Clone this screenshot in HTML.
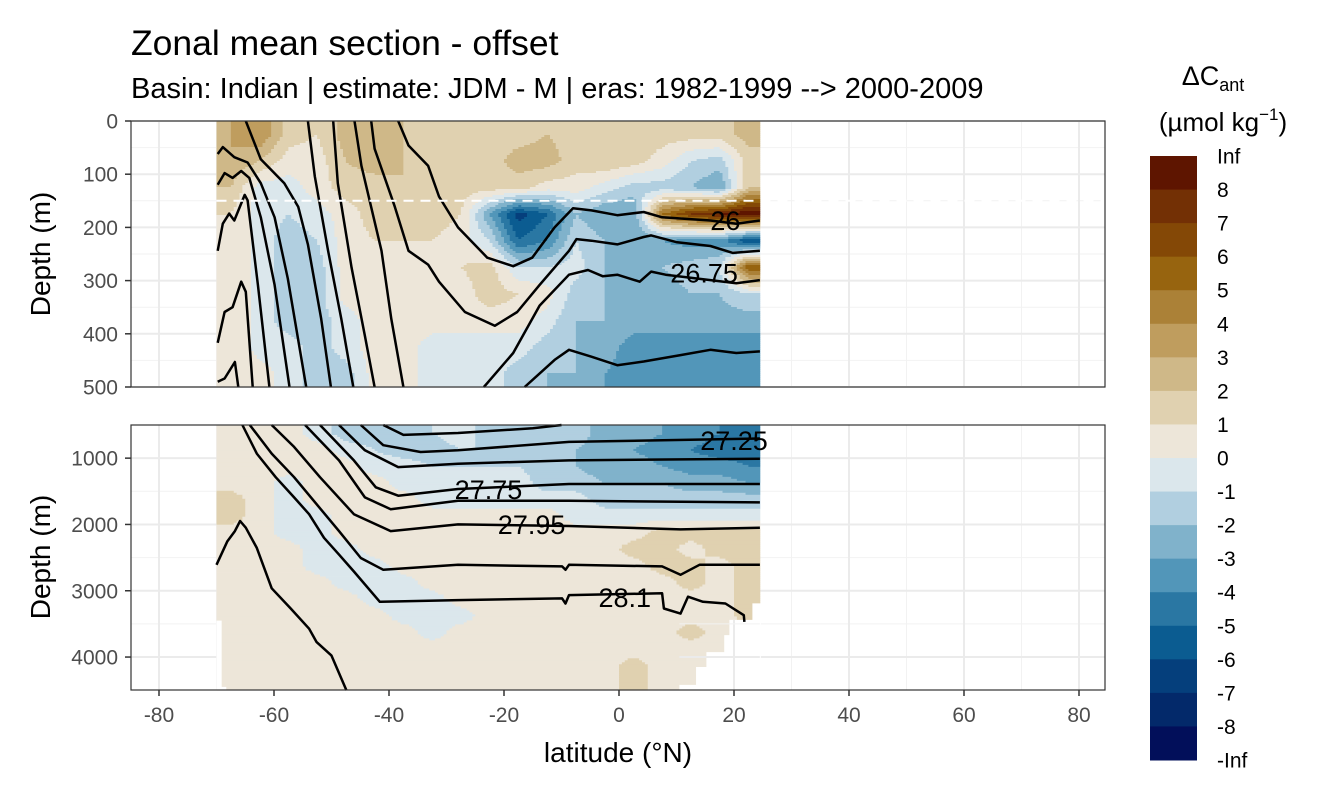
<!DOCTYPE html>
<html><head><meta charset="utf-8">
<style>
html,body{margin:0;padding:0;background:#fff;}
svg{display:block;font-family:"Liberation Sans",sans-serif;}
</style></head>
<body>
<svg id="chart" width="1344" height="806" viewBox="0 0 1344 806" xmlns="http://www.w3.org/2000/svg">
  <text x="131" y="55" font-size="35.5" fill="#000">Zonal mean section - offset</text>
  <text x="131" y="98" font-size="29" fill="#000">Basin: Indian | estimate: JDM - M | eras: 1982-1999 --&gt; 2000-2009</text>
  <g id="topPanel"></g>
  <g id="botPanel"></g>
  <g id="xaxis"></g>
  <text x="618" y="762" font-size="28" text-anchor="middle" fill="#000">latitude (°N)</text>
  <text transform="translate(50,254) rotate(-90)" font-size="28" text-anchor="middle" fill="#000">Depth (m)</text>
  <text transform="translate(50,557) rotate(-90)" font-size="28" text-anchor="middle" fill="#000">Depth (m)</text>
  <g id="legend">
    <text x="1213" y="85" font-size="27" text-anchor="middle" fill="#000">ΔC<tspan font-size="18" dy="6">ant</tspan></text>
    <text x="1223" y="131" font-size="26" text-anchor="middle" fill="#000">(µmol kg<tspan font-size="17" dy="-11">−1</tspan><tspan dy="11">)</tspan></text>
  </g>
</svg>
<script>
// ---- data ----
const legendLabels = ['Inf','8','7','6','5','4','3','2','1','0','-1','-2','-3','-4','-5','-6','-7','-8','-Inf'];
const binColors = ['#5e1500','#733005','#844806','#97640f','#ab8137','#bf9d5e','#cfb888','#e0d1b0','#ede6d9','#dbe7ec','#b1cfe0','#80b2cb','#5296b9','#2a77a3','#0b5c91','#053f7c','#03296a','#020f5a'];
const latCenters = [-67.5,-62.5,-57.5,-52.5,-47.5,-42.5,-37.5,-32.5,-27.5,-22.5,-17.5,-12.5,-7.5,-2.5,2.5,7.5,12.5,17.5,22.5];
const topDepths = [25,75,125,175,225,275,325,375,425,475];
const topValues = [
 [3,4,1.5,1,2.5,3,2,1.5,1.5,1.5,1.5,2,1.5,1.5,1.5,1.5,1.5,1.5,2.5],
 [3,2,0.5,0.5,2,2.5,2,2,2,1.5,2.5,2.5,1.5,2,1.5,0.5,-1,-1.5,1.5],
 [2,-0.5,-0.5,0.5,1.5,1.5,2,2,1.5,1.5,1.5,0.5,0.5,-0.5,-1.5,-1.5,-2,-3,2],
 [1,-0.5,-1,-0.5,0.5,1.5,1.5,1.5,1,-3,-6.5,-5,-2,-3,-3,5,7,8,9],
 [1,-0.5,-1.5,-1,0.5,1,1,1,0.5,-1,-5,-4,-1,-2,-3,-3,-3.5,-3.5,-6],
 [1,-0.5,-1.5,-1.5,0.5,1,1,1,1,1.5,-1,-1,-0.5,-2,-2,-2,-1.5,-1,6],
 [1,-0.5,-1.5,-1.5,0.5,0.5,0.5,1,0.5,1.5,1,0.5,-1.5,-2,-2.5,-2.5,-2,-2,-1],
 [1,-0.5,-1.5,-1.5,-0.5,0.5,0.5,0.5,0.5,0.5,0.5,-0.5,-2,-2,-2.5,-2.5,-2.5,-2.5,-2.5],
 [1,-0.5,-0.5,-1.5,-0.5,0.5,0.5,-0.5,-0.5,-0.5,-0.5,-1.5,-2,-2.5,-3.5,-3.5,-3.5,-3.5,-3.5],
 [1,0.5,-0.5,-1.5,-1.5,0.5,0.5,-0.5,-0.5,-0.5,-1.5,-2,-2,-3,-3.5,-3.5,-3.5,-3.5,-3.5]
];
const botDepths = [625,875,1125,1375,1625,1875,2125,2375,2625,2875,3125,3375,3625,3875,4125,4375];
const botValues = [
 [1,0.5,0.5,-0.5,-1.5,-1.5,-1.5,-1,-0.5,-1.5,-1.5,-1.5,-1.5,-2.5,-2.5,-3,-3.5,-4,-4.5],
 [0.5,0.5,0.5,0.5,-0.5,-1,-1.5,-1.5,-1,-1,-1.5,-2,-2,-2.5,-3,-3.5,-4,-4.5,-4.5],
 [0.5,0.5,0.5,0.5,0.5,-0.5,-0.5,-1,-1,-1,-1,-1.5,-2,-2.5,-2.5,-3,-3.5,-3.5,-4],
 [0.5,0.5,-0.5,0.5,0.5,0.5,-0.5,-0.5,-0.5,-0.5,-0.5,-1.5,-1.5,-2,-2,-2,-2.5,-2.5,-3],
 [1.5,0.5,-0.5,0.5,0.5,0.5,0.5,-0.5,-0.5,-0.5,-0.5,-0.5,-0.5,-1.5,-1.5,-1.5,-1.5,-1.5,-1.5],
 [1.5,0.5,-0.5,-0.5,0.5,0.5,0.5,0.5,0.5,0.5,0.5,0.5,-0.5,-0.5,-0.5,-0.5,-0.5,-0.5,-0.5],
 [0.5,0.5,-0.5,-0.5,0.5,0.5,0.5,0.5,0.5,0.5,0.5,0.5,0.5,0.5,0.5,1.5,1.5,1.5,1.5],
 [0.5,0.5,0.5,-0.5,-0.5,0.5,0.5,0.5,0.5,0.5,0.5,0.5,0.5,0.5,1.5,1.5,0.5,1.5,1.5],
 [0.5,0.5,0.5,-0.5,-0.5,-0.5,0.5,0.5,0.5,0.5,0.5,0.5,0.5,0.5,0.5,1.5,1.5,0.5,1.5],
 [0.5,0.5,0.5,0.5,-0.5,-0.5,-0.5,0.5,0.5,0.5,0.5,0.5,0.5,0.5,0.5,0.5,1.5,0.5,1.5],
 [0.5,0.5,0.5,0.5,0.5,-0.5,-0.5,-0.5,0.5,0.5,0.5,0.5,0.5,0.5,0.5,0.5,0.5,0.5,1.5],
 [0.5,0.5,0.5,0.5,0.5,0.5,-0.5,-0.5,-0.5,0.5,0.5,0.5,0.5,0.5,0.5,0.5,0.5,0.5,1.5],
 [0.5,0.5,0.5,0.5,0.5,0.5,0.5,-0.5,0.5,0.5,0.5,0.5,0.5,0.5,0.5,0.5,1.5,0.5,0.5],
 [0.5,0.5,0.5,0.5,0.5,0.5,0.5,0.5,0.5,0.5,0.5,0.5,0.5,0.5,0.5,0.5,0.5,0.5,0.5],
 [0.5,0.5,0.5,0.5,0.5,0.5,0.5,0.5,0.5,0.5,0.5,0.5,0.5,0.5,1.5,0.5,0.5,0.5,0.5],
 [0.5,0.5,0.5,0.5,0.5,0.5,0.5,0.5,0.5,0.5,0.5,0.5,0.5,0.5,1.5,0.5,0.5,0.5,0.5]
];
// bottom-edge mask of the section (lat, depth)
const maskRight = [[24.5,3190],[23.2,3190],[23.2,3440],[19.2,3440],[19.2,3670],[18.3,3670],[18.3,3925],[15.2,3925],[15.2,4150],[13.4,4150],[13.4,4420],[10.5,4420],[10.5,4500]];
const maskLeft = [[-70,3450],[-69.1,3450],[-69.1,4450],[-68.3,4450],[-68.3,4500]];
// isopycnal contours (lat, depth)
const topContours = [
 [[-69.8,490],[-68.6,484],[-66.8,453],[-66.2,500]],
 [[-69.8,417],[-68.6,359],[-67.2,350],[-65.7,302],[-64.9,321],[-63.7,500]],
 [[-69.8,244],[-68.9,193],[-67.8,174],[-66.9,187],[-65.1,139],[-64.6,149],[-62.8,308],[-60.8,500]],
 [[-69.8,120],[-68.6,98],[-67.2,107],[-65.7,94],[-64.3,107],[-62.3,181],[-59.9,308],[-57.3,500]],
 [[-69.8,62],[-68.9,49],[-66.9,68],[-64.6,78],[-62.3,117],[-59.9,181],[-57.6,296],[-54.4,500]],
 [[-64.9,0],[-62.3,72],[-58.2,117],[-55.8,161],[-54.1,232],[-51.8,372],[-50.1,500]],
 [[-54.1,0],[-52.9,104],[-50.6,244],[-48.3,372],[-46.2,500]],
 [[-49.7,0],[-48.9,117],[-46.5,276],[-44.2,404],[-42.5,500]],
 [[-46,0],[-44.8,84],[-41.3,244],[-39.6,372],[-37.5,500]],
 [[-38.4,0],[-36.6,46],[-33.2,84],[-31.3,142],[-28,200],[-22.9,257],[-18.4,273],[-15.1,257],[-11.2,200],[-8,164],[-4.8,168],[-0.3,177],[4.3,171],[7.5,181],[15.9,187],[20.4,193],[24.5,187]],
 [[-43.1,0],[-42.5,52],[-39,161],[-36.6,244],[-34.9,257],[-33.2,270],[-31.3,302],[-26.8,359],[-21.6,385],[-17.7,359],[-13.8,308],[-8.7,244],[-7.4,222],[-4.8,225],[-0.3,232],[4.3,218],[5.6,215],[10.1,228],[15.9,235],[19.8,248],[24.5,244]],
 [[-23.5,500],[-18.4,436],[-13.8,347],[-8.7,289],[-5.4,280],[-2.8,292],[-0.3,289],[3.6,302],[5.6,283],[8.1,289],[15.9,299],[20.4,305],[24.5,299]],
 [[-16.4,500],[-11.2,449],[-8.7,430],[-4.8,443],[-0.3,459],[4.3,452],[10.7,440],[15.9,430],[20.4,436],[24.5,433]]
];
const botContours = [
 [[-70,2608],[-68.1,2252],[-66.8,2100],[-65.9,1948],[-64.9,2049],[-63,2354],[-60.4,2963],[-57.1,3268],[-53.9,3572],[-52.6,3775],[-50,3978],[-47.4,4500]],
 [[-65.5,500],[-63,932],[-59.7,1288],[-56.5,1592],[-53.9,1846],[-51.3,2201],[-48.7,2455],[-46.1,2709],[-41.6,3166],[-28,3141],[-9.9,3115],[-9.3,3192],[-8.7,3065],[7.5,3039],[7.8,3268],[10.7,3344],[12,3090],[14.6,3166],[18.5,3192],[21.7,3369],[21.8,3470]],
 [[-64.2,500],[-60.4,932],[-56.5,1288],[-52.6,1694],[-48.7,2100],[-44.9,2506],[-41,2684],[-28,2608],[-9.9,2633],[-9.3,2684],[-8.7,2608],[7.5,2633],[10.7,2760],[14,2608],[24.5,2608]],
 [[-60.4,500],[-56.5,831],[-52,1288],[-46.1,1846],[-39.7,2100],[-28,1999],[-8.7,2024],[10.7,2075],[24.5,2049]],
 [[-54.6,500],[-48.7,1034],[-44.2,1592],[-39.7,1770],[-28,1643],[-8.7,1643],[24.5,1668]],
 [[-52,500],[-46.1,1034],[-42.3,1440],[-38.4,1567],[-28,1466],[-8.7,1390],[24.5,1390]],
 [[-48.7,500],[-44.2,882],[-38.4,1135],[-28,1084],[-8.7,1034],[24.5,1008]],
 [[-44.9,500],[-41,805],[-34.5,907],[-28,882],[-8.7,755],[24.5,704]],
 [[-41,500],[-37.5,650],[-28,620],[-15,550],[-10,500]]
];
const contourLabels = [
 {panel:'top',lat:18.5,depth:186,text:'26'},
 {panel:'top',lat:14.8,depth:285,text:'26.75'},
 {panel:'bot',lat:20,depth:726,text:'27.25'},
 {panel:'bot',lat:-22.7,depth:1465,text:'27.75'},
 {panel:'bot',lat:-15.2,depth:1993,text:'27.95'},
 {panel:'bot',lat:1,depth:3094,text:'28.1'}
];
const xTicks = [-80,-60,-40,-20,0,20,40,60,80];
const xMinor = [-70,-50,-30,-10,10,30,50,70];
const topYTicks = [0,100,200,300,400,500];
const topYMinor = [50,150,250,350,450];
const botYTicks = [1000,2000,3000,4000];
const botYMinor = [500,1500,2500,3500];

// ---- layout ----
const NS='http://www.w3.org/2000/svg';
const PX0=131, PX1=1105;
const xScale = lat => 619 + lat*5.75;
const topP = {y0:121, y1:387, d0:0, d1:500};
const botP = {y0:425, y1:690, d0:500, d1:4500};
const yScaleTop = d => topP.y0 + (d-topP.d0)*(topP.y1-topP.y0)/(topP.d1-topP.d0);
const yScaleBot = d => 425 + (d-500)*0.0663;

function mk(tag, attrs, parent){ const e=document.createElementNS(NS,tag); for(const k in attrs) e.setAttribute(k,attrs[k]); parent.appendChild(e); return e; }
function binIndex(v){ if(v>8) return 0; let i=9-Math.ceil(v); return Math.max(0,Math.min(17,i)); }
function sample(vals, depths, lat, d){
  let fx=(lat-latCenters[0])/5; fx=Math.max(0,Math.min(latCenters.length-1,fx));
  let fy=0;
  if(d<=depths[0]) fy=0; else if(d>=depths[depths.length-1]) fy=depths.length-1;
  else { for(let i=0;i<depths.length-1;i++){ if(d>=depths[i]&&d<=depths[i+1]){ fy=i+(d-depths[i])/(depths[i+1]-depths[i]); break; } } }
  const x0=Math.floor(fx), x1=Math.min(x0+1,latCenters.length-1), tx=fx-x0;
  const y0=Math.floor(fy), y1=Math.min(y0+1,depths.length-1), ty=fy-y0;
  const a=vals[y0][x0]*(1-tx)+vals[y0][x1]*tx, b=vals[y1][x0]*(1-tx)+vals[y1][x1]*tx;
  return a*(1-ty)+b*ty;
}

function drawPanel(g, P, yS, vals, depths, yTicks, yMinor, panelName){
  mk('rect',{x:PX0,y:P.y0,width:PX1-PX0,height:P.y1-P.y0,fill:'#fff'},g);
  xMinor.forEach(t=>{ mk('line',{x1:xScale(t),x2:xScale(t),y1:P.y0,y2:P.y1,stroke:'#f2f2f2','stroke-width':1},g); });
  yMinor.forEach(t=>{ if(t>P.d0) mk('line',{x1:PX0,x2:PX1,y1:yS(t),y2:yS(t),stroke:'#f2f2f2','stroke-width':1},g); });
  xTicks.forEach(t=>{ mk('line',{x1:xScale(t),x2:xScale(t),y1:P.y0,y2:P.y1,stroke:'#ebebeb','stroke-width':2},g); });
  yTicks.forEach(t=>{ mk('line',{x1:PX0,x2:PX1,y1:yS(t),y2:yS(t),stroke:'#ebebeb','stroke-width':2},g); });
  const field = mk('g',{},g);
  
  
  const dLat=0.5, nD=Math.round((P.y1-P.y0)/2), dD=(P.d1-P.d0)/nD;
  for(let j=0;j<nD;j++){
    const d=P.d0+(j+0.5)*dD;
    let runStart=-70, runIdx=null;
    const flush=(end)=>{ if(runIdx===null) return; mk('rect',{x:xScale(runStart),y:yS(P.d0+j*dD),width:xScale(end)-xScale(runStart)+0.4,height:yS(P.d0+(j+1)*dD)-yS(P.d0+j*dD)+0.4,fill:binColors[runIdx]},field); };
    for(let lat=-70; lat<24.5-1e-6; lat+=dLat){
      const idx=binIndex(sample(vals,depths,lat+dLat/2,d));
      if(idx!==runIdx){ flush(lat); runStart=lat; runIdx=idx; }
    }
    flush(24.5);
  }
}

const topG=document.getElementById('topPanel'), botG=document.getElementById('botPanel');
drawPanel(topG, topP, yScaleTop, topValues, topDepths, topYTicks, topYMinor, 'top');
drawPanel(botG, botP, yScaleBot, botValues, botDepths, botYTicks, botYMinor, 'bottom');

function maskPoly(pts, side){
  let s='';
  pts.forEach(p=>{ s+=xScale(p[0])+','+yScaleBot(p[1])+' '; });
  if(side==='right') s+=(xScale(24.5)+1)+','+yScaleBot(4500)+' '+(xScale(24.5)+1)+','+yScaleBot(3190);
  else s+=xScale(-70)+','+yScaleBot(4500);
  const m=mk('polygon',{points:s,fill:'#fff'},botG);
  
  
}
maskPoly(maskRight,'right'); maskPoly(maskLeft,'left');
mk('line',{x1:xScale(20),x2:xScale(20),y1:yScaleBot(3440),y2:botP.y1,stroke:'#ebebeb','stroke-width':2},botG);
mk('line',{x1:xScale(10.5),x2:xScale(24.5),y1:yScaleBot(4000),y2:yScaleBot(4000),stroke:'#ebebeb','stroke-width':2},botG);
mk('line',{x1:xScale(10.5),x2:xScale(24.5),y1:yScaleBot(3500),y2:yScaleBot(3500),stroke:'#f2f2f2','stroke-width':1},botG);

function drawContours(g, list, yS, name){
  list.forEach((c,i)=>{
    const pts=c.map(p=>xScale(p[0]).toFixed(1)+','+yS(p[1]).toFixed(1)).join(' ');
    const pl=mk('polyline',{points:pts,fill:'none',stroke:'#000','stroke-width':2.5,'stroke-linejoin':'round'},g);
    
    
  });
}
drawContours(topG, topContours, yScaleTop, 'top');
drawContours(botG, botContours, yScaleBot, 'bottom');

const dash=mk('line',{x1:xScale(-70),x2:PX1,y1:yScaleTop(150),y2:yScaleTop(150),stroke:'#fff','stroke-width':2,'stroke-dasharray':'10,7'},topG);



contourLabels.forEach(l=>{
  const yS = l.panel==='top'?yScaleTop:yScaleBot;
  const g = l.panel==='top'?topG:botG;
  const t=mk('text',{x:xScale(l.lat),y:yS(l.depth)+10,'font-size':27,'text-anchor':'middle',fill:'#000'},g);
  t.textContent=l.text;
  
  
});

[[topP,yScaleTop,topYTicks,topG],[botP,yScaleBot,botYTicks,botG]].forEach(([P,yS,ticks,g])=>{
  mk('rect',{x:PX0,y:P.y0,width:PX1-PX0,height:P.y1-P.y0,fill:'none',stroke:'#333','stroke-width':1.2},g);
  ticks.forEach(t=>{
    mk('line',{x1:PX0-6,x2:PX0,y1:yS(t),y2:yS(t),stroke:'#333','stroke-width':1.5},g);
    const tx=mk('text',{x:PX0-13,y:yS(t)+7.5,'font-size':21,'text-anchor':'end',fill:'#4d4d4d'},g);
    tx.textContent=t;
    
    
  });
});
const xa=document.getElementById('xaxis');
xTicks.forEach(t=>{
  mk('line',{x1:xScale(t),x2:xScale(t),y1:690,y2:696,stroke:'#333','stroke-width':1.5},xa);
  const tx=mk('text',{x:xScale(t),y:722,'font-size':21,'text-anchor':'middle',fill:'#4d4d4d'},xa);
  tx.textContent=t;
  
  
});
const lg=document.getElementById('legend');
const cbTop=156, cbBot=760, cbH=(cbBot-cbTop)/binColors.length;
binColors.forEach((c,i)=>{
  const r=mk('rect',{x:1150,y:cbTop+i*cbH,width:47,height:cbH+0.5,fill:c},lg);
  
  
});
legendLabels.forEach((s,i)=>{
  const t=mk('text',{x:1217,y:cbTop+i*cbH+7.5,'font-size':21,fill:'#000'},lg);
  t.textContent=s;
  
  
});
</script>
</body></html>
